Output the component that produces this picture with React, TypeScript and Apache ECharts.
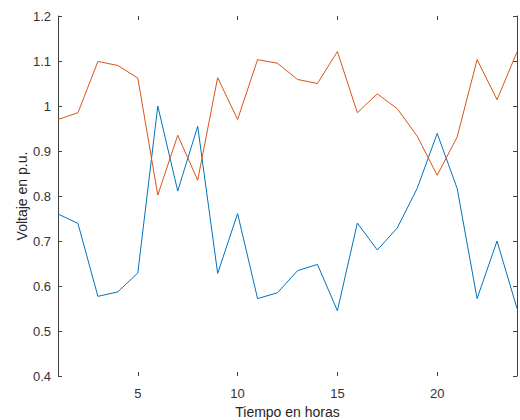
import React, { useEffect, useRef } from "react";
import * as echarts from "echarts";

const hours = [1, 2, 3, 4, 5, 6, 7, 8, 9, 10, 11, 12, 13, 14, 15, 16, 17, 18, 19, 20, 21, 22, 23, 24];
const blueValues = [0.760, 0.739, 0.577, 0.587, 0.629, 1.0, 0.811, 0.955, 0.628, 0.761, 0.572, 0.585, 0.634, 0.648, 0.545, 0.740, 0.680, 0.729, 0.817, 0.939, 0.817, 0.572, 0.700, 0.550];
const orangeValues = [0.970, 0.985, 1.099, 1.090, 1.062, 0.802, 0.935, 0.835, 1.063, 0.970, 1.103, 1.095, 1.059, 1.050, 1.121, 0.985, 1.027, 0.994, 0.933, 0.846, 0.931, 1.103, 1.014, 1.120];
const xTicks = [5, 10, 15, 20];
const xAxisTitle = "Tiempo en horas";
const yAxisTitle = "Voltaje en p.u.";

export default function App() {
  const ref = useRef<HTMLDivElement>(null);
  useEffect(() => {
    if (!ref.current) return;
    const chart = echarts.init(ref.current, null, { renderer: "svg" });
    const font = "'Liberation Sans', Arial, sans-serif";
    const axisColor = "#404040";
    chart.setOption({
      animation: false,
      backgroundColor: "#ffffff",
      grid: { left: 58, right: 3, top: 16, bottom: 44, containLabel: false, outerBoundsMode: "none" },
      xAxis: [
        {
          type: "value",
          min: 1,
          max: 24,
          position: "bottom",
          name: xAxisTitle,
          nameLocation: "middle",
          nameGap: 29,
          nameMoveOverlap: false,
          nameTextStyle: { fontFamily: font, fontSize: 14, color: "#262626" },
          axisLine: { show: false },
          axisTick: { show: true, inside: true, length: 4, customValues: xTicks, lineStyle: { color: axisColor } },
          axisLabel: { customValues: xTicks, margin: 11, fontFamily: font, fontSize: 13, color: "#333" },
          splitLine: { show: false },
        },
        {
          type: "value",
          min: 1,
          max: 24,
          position: "top",
          axisLine: { show: false },
          axisTick: { show: true, inside: true, length: 4, customValues: xTicks, lineStyle: { color: axisColor } },
          axisLabel: { show: false },
          splitLine: { show: false },
        },
      ],
      yAxis: [
        {
          type: "value",
          min: 0.4,
          max: 1.2,
          interval: 0.1,
          position: "left",
          name: yAxisTitle,
          nameLocation: "middle",
          nameGap: 29,
          nameMoveOverlap: false,
          nameTextStyle: { fontFamily: font, fontSize: 14, color: "#262626" },
          axisLine: { show: true, lineStyle: { color: axisColor, width: 1 } },
          axisTick: { show: true, inside: true, length: 4, lineStyle: { color: axisColor } },
          axisLabel: {
            margin: 7,
            fontFamily: font,
            fontSize: 13,
            color: "#333",
            formatter: (v: number) => String(Number(v.toFixed(1))),
          },
          splitLine: { show: false },
        },
        {
          type: "value",
          min: 0.4,
          max: 1.2,
          interval: 0.1,
          position: "right",
          axisLine: { show: true, lineStyle: { color: axisColor, width: 1 } },
          axisTick: { show: true, inside: true, length: 4, lineStyle: { color: axisColor } },
          axisLabel: { show: false },
          splitLine: { show: false },
        },
      ],
      series: [
        {
          type: "line",
          data: hours.map((h, i) => [h, blueValues[i]]),
          showSymbol: false,
          lineStyle: { color: "#0072BD", width: 1 },
          itemStyle: { color: "#0072BD" },
        },
        {
          type: "line",
          data: hours.map((h, i) => [h, orangeValues[i]]),
          showSymbol: false,
          lineStyle: { color: "#D95319", width: 1 },
          itemStyle: { color: "#D95319" },
        },
      ],
    });
    return () => chart.dispose();
  }, []);
  return <div ref={ref} style={{ width: 520, height: 420, position: "absolute", left: 0, top: 0 }} />;
}
